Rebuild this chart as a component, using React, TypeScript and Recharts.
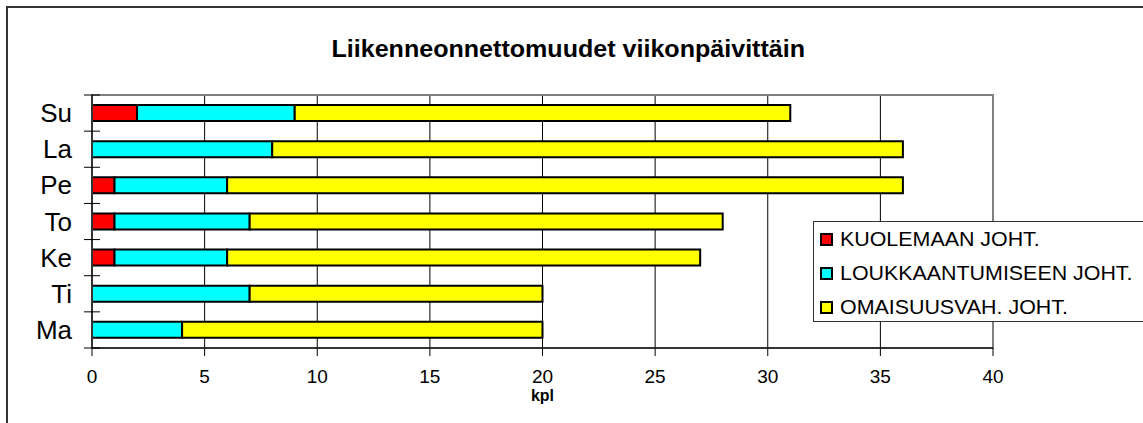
import { BarChart, Bar, XAxis, YAxis, CartesianGrid, Legend, ReferenceArea } from 'recharts';

const DAYS = ['Su', 'La', 'Pe', 'To', 'Ke', 'Ti', 'Ma'];
const KUOLEMAAN = [2, 0, 1, 1, 1, 0, 0];
const LOUKKAANTUMISEEN = [7, 8, 5, 6, 5, 7, 4];
const OMAISUUSVAH = [22, 28, 30, 21, 21, 13, 16];
const X_TICKS = [0, 5, 10, 15, 20, 25, 30, 35, 40];

const SERIES = [
  { key: 'kuol', name: 'KUOLEMAAN JOHT.', color: '#FF0000' },
  { key: 'louk', name: 'LOUKKAANTUMISEEN JOHT.', color: '#00FFFF' },
  { key: 'omai', name: 'OMAISUUSVAH. JOHT.', color: '#FFFF00' },
];

const data = DAYS.map((day, i) => ({
  day,
  kuol: KUOLEMAAN[i],
  louk: LOUKKAANTUMISEEN[i],
  omai: OMAISUUSVAH[i],
}));

const FONT = '"Liberation Sans", Arial, sans-serif';
const PLOT_LEFT = 92;
const PLOT_TOP = 95;
const PLOT_BOTTOM = 348;
const BAND = (PLOT_BOTTOM - PLOT_TOP) / DAYS.length;

function DayTick(props: any) {
  const { x, y, payload, index } = props;
  const last = index === DAYS.length - 1;
  return (
    <g>
      <text x={x} y={y} textAnchor="end" dominantBaseline="central" fontSize={26} fill="#000" fontFamily={FONT}>
        {payload.value}
      </text>
      <line x1={PLOT_LEFT - 8} x2={PLOT_LEFT + 8} y1={y - BAND / 2} y2={y - BAND / 2} stroke="#000" />
      {last && <line x1={PLOT_LEFT - 8} x2={PLOT_LEFT + 8} y1={y + BAND / 2} y2={y + BAND / 2} stroke="#000" />}
    </g>
  );
}

function LegendBox() {
  return (
    <div
      style={{
        width: 330,
        height: 101,
        boxSizing: 'border-box',
        border: '1px solid #333',
        borderRight: 'none',
        background: '#fff',
        fontFamily: FONT,
        fontSize: 20,
        color: '#000',
      }}
    >
      {SERIES.map((s) => (
        <div key={s.key} style={{ height: 34, display: 'flex', alignItems: 'center', paddingLeft: 6 }}>
          <span
            style={{
              display: 'inline-block',
              flex: 'none',
              width: 9,
              height: 9,
              border: '2px solid #000',
              background: s.color,
              marginRight: 7,
            }}
          />
          <span style={{ whiteSpace: 'nowrap', display: 'inline-block', transform: 'scaleX(1.07)', transformOrigin: 'left center' }}>
            {s.name}
          </span>
        </div>
      ))}
    </div>
  );
}

export default function App() {
  return (
    <div style={{ position: 'absolute', left: 0, top: 0, width: 1143, height: 423, background: '#fff', overflow: 'hidden' }}>
      <div
        style={{
          position: 'absolute',
          left: 6,
          top: 6,
          width: 1300,
          height: 600,
          borderTop: '2px solid #333',
          borderLeft: '2px solid #333',
        }}
      />
      <div
        style={{
          position: 'absolute',
          left: 0,
          top: 36,
          width: 1136,
          textAlign: 'center',
          fontFamily: FONT,
          fontWeight: 'bold',
          fontSize: 23,
          color: '#000',
        }}
      >
        <span style={{ display: 'inline-block', transform: 'scaleX(1.09)' }}>Liikenneonnettomuudet viikonpäivittäin</span>
      </div>
      <div style={{ position: 'absolute', left: 0, top: 0 }}>
        <BarChart
          width={1143}
          height={423}
          data={data}
          layout="vertical"
          barSize={16}
          margin={{ top: PLOT_TOP, right: 150, bottom: 18, left: 12 }}
        >
          <CartesianGrid horizontal={false} stroke="#000" />
          <XAxis
            type="number"
            domain={[0, 40]}
            ticks={X_TICKS}
            interval={0}
            height={57}
            tickSize={8}
            tickMargin={14}
            axisLine={{ stroke: '#333', strokeWidth: 2 }}
            tickLine={{ stroke: '#000' }}
            tick={{ fontSize: 19, fill: '#000', fontFamily: FONT }}
            label={{ value: 'kpl', position: 'insideBottom', offset: 4, fontSize: 16, fontWeight: 'bold', fill: '#000', fontFamily: FONT }}
          />
          <YAxis
            type="category"
            dataKey="day"
            width={80}
            tickSize={0}
            tickMargin={20}
            tickLine={false}
            axisLine={{ stroke: '#333', strokeWidth: 2 }}
            tick={<DayTick />}
          />
          <ReferenceArea x1={0} x2={40} fill="none" stroke="#808080" strokeWidth={2} ifOverflow="visible" />
          {SERIES.map((s) => (
            <Bar
              key={s.key}
              dataKey={s.key}
              name={s.name}
              stackId="a"
              fill={s.color}
              stroke="#000"
              strokeWidth={2}
              isAnimationActive={false}
            />
          ))}
          <Legend
            layout="vertical"
            align="center"
            verticalAlign="middle"
            content={<LegendBox />}
            wrapperStyle={{ position: 'absolute', left: 813, top: 221, width: 330 }}
          />
        </BarChart>
      </div>
    </div>
  );
}
